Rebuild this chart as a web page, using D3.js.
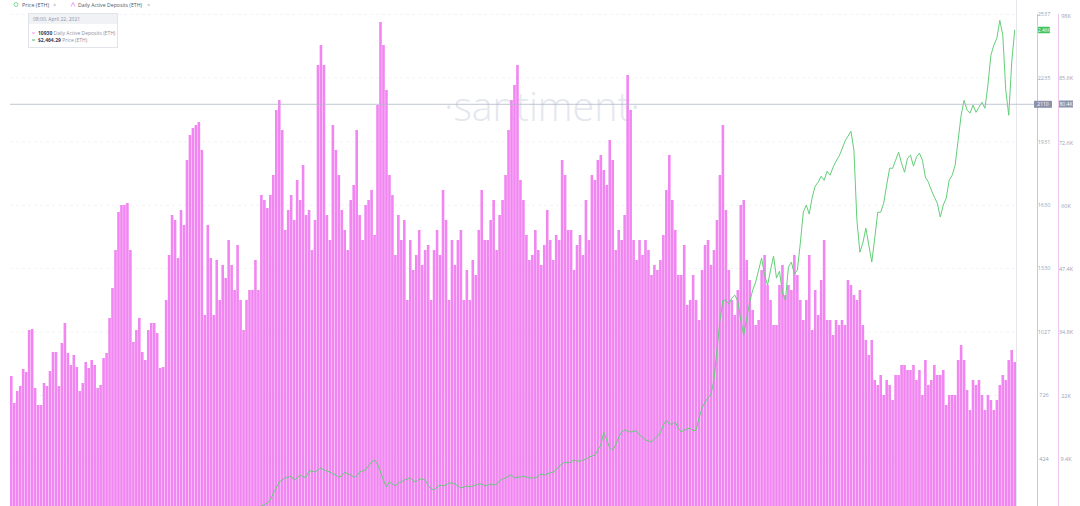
<!DOCTYPE html>
<html><head><meta charset="utf-8">
<script src="https://cdn.jsdelivr.net/npm/d3@7"></script>
<style>body{margin:0;background:#fff;overflow:hidden}svg{display:block;font-family:"Open Sans",Roboto,sans-serif}</style>
</head><body><svg id="c" width="1080" height="506"></svg>
<script>
// Daily Active Deposits (ETH), one value per day
const deposits = [
26000,20600,23000,24000,27400,26800,35200,35400,23600,20200,
20200,24600,24000,27000,30800,30800,24000,32600,36600,30600,
28200,30200,27800,23000,24600,28800,27600,29200,28200,23600,
24200,29600,30600,37600,43600,51200,58800,60200,60200,60600,
51200,32800,35200,37600,30800,29200,35200,36600,36600,34600,
27600,27800,41200,50200,58200,57200,49600,59200,56200,69200,
74200,75600,76200,76800,71200,38200,56200,
49600,38200,49200,41200,48200,45600,53200,48200,43200,52200,
41200,35200,41200,43200,43200,49200,43200,62200,61200,59600,
62200,66200,79200,81200,75200,55200,59200,62200,57200,65200,
61200,68200,58200,59200,51200,57200,88200,92200,88200,58200,
53200,76200,71200,66200,59200,55200,51200,61200,64200,75200,
58200,53200,60200,61200,63200,54200,80200,96800,92200,83200,
66200,62200,50200,58200,53200,57200,41200,53200,47200,50200,
55200,48200,51200,52200,41200,51200,55200,50200,63200,57200,
41200,53200,48200,53200,55200,41200,47200,41200,49200,46200,
55200,63200,53200,53200,57200,61200,51200,58200,61200,66200,
75200,81200,84200,88200,65200,61200,54200,49200,50200,55200,
51200,48200,52200,59200,53200,49200,54200,53200,69200,66200,
55200,55200,47200,52200,54200,50200,61200,53200,66200,65200,
69200,70200,67200,64200,73200,69200,51200,55200,53200,58200,
86200,79200,53200,49200,53200,50200,53200,51200,46200,48200,
47200,49200,54200,63200,70200,61200,55200,46200,46200,52200,
40200,41200,46200,41200,37200,47200,52200,53200,48200,51200,
57200,66200,76200,59200,47200,41200,38200,43200,60200,61200,
49200,45200,39200,36200,37200,47200,50200,44200,41200,36200,
36200,44200,48200,42200,44200,43200,50200,46200,41200,37200,
41200,50200,35200,43200,38200,45200,53200,37200,37200,34200,
37200,36200,37200,36200,45200,44200,42200,41200,43200,36200,
33200,30200,33200,25200,24200,26200,22200,25200,24200,21200,
26200,26200,28200,28200,27200,27200,28200,25200,27200,22200,
29200,24200,25200,28200,26200,26200,27200,20200,22200,22200,
22200,29200,32200,29200,23200,19200,25200,24200,25200,22200,
19200,22200,21200,19200,21200,24200,26200,25200,29200,31200,
28800
];
// Price (ETH) in USD, same days; null = not shown
const price = [
null,null,null,null,null,null,null,null,null,null,
null,null,null,null,null,null,null,null,null,null,
null,null,null,null,null,null,null,null,null,null,
null,null,null,null,null,null,null,null,null,null,
null,null,null,null,null,null,null,null,null,null,
null,null,null,null,null,null,null,null,null,null,
null,null,null,null,null,null,null,null,null,null,
null,null,null,null,null,null,null,null,null,null,
190,192,195,198,200,
206,215,229,262,286,315,324,334,338,343,
324,334,348,338,338,367,367,362,372,381,
372,367,362,353,348,338,343,362,353,348,
338,343,362,367,372,391,410,419,400,362,
324,291,315,305,296,310,315,324,329,334,
320,315,329,329,324,300,282,277,291,300,
296,300,310,310,305,296,286,291,296,291,
296,300,305,305,296,300,305,300,305,320,
329,334,343,348,334,338,338,343,338,334,
334,334,343,353,348,353,358,362,372,391,
400,410,405,410,419,414,414,419,424,434,
438,443,467,491,552,514,476,467,491,529,
552,562,557,552,557,557,538,529,514,510,
505,519,533,548,586,609,590,590,600,571,
552,562,567,571,557,562,619,666,695,714,
733,799,942,1084,1179,1179,1160,1189,1203,1175,
1084,1013,1094,1170,1227,1265,1322,1379,1298,1251,
1322,1388,1284,1317,1213,1179,1336,1360,1303,1322,
1450,1597,1631,1588,1669,1721,1740,1768,1749,1792,
1773,1811,1840,1863,1897,1935,1958,1982,1892,1559,
1407,1450,1521,1441,1360,1474,1597,1597,1640,1726,
1806,1806,1844,1882,1830,1787,1854,1868,1816,1859,
1878,1844,1764,1740,1702,1669,1640,1574,1631,1664,
1749,1773,1821,1939,2058,2129,2082,2068,2106,2072,
2096,2120,2091,2201,2343,2391,2424,2509,2438,2177,
2058,2310,2464
];
const priceTicks = [424, 726, 1027, 1330, 1630, 1931, 2235, 2537];
const depositTicks = [9400, 22000, 34800, 47400, 60000, 72600, 85600, 98000];
const depositTickLabels = ["9.4K","22K","34.8K","47.4K","60K","72.6K","85.6K","98K"];
const crosshairPrice = 2110;
const crosshairDeposits = 80400;
const lastPrice = 2464;
const tooltipDate = "08:00, April 22, 2021";
const tooltipDeposits = "10930";
const tooltipPrice = "$2,464.29";
const legendItems = ["Price (ETH)", "Daily Active Deposits (ETH)"];

const svg = d3.select("#c");
const N = deposits.length;
const L = 10, R = 1016, B = 506;
const x = d3.scaleBand().domain(d3.range(N)).range([L, R]).paddingInner(0.13);
const yDep = d3.scaleLinear().domain([0, 98000]).range([B, 16]);
const yPrice = d3.scaleLinear().domain([424, 2235]).range([459, 78]);

svg.append("defs").append("clipPath").attr("id","clip")
  .append("rect").attr("x",L).attr("y",0).attr("width",R-L).attr("height",B);

// watermark
svg.append("text").attr("x",542).attr("y",121).attr("text-anchor","middle")
  .attr("font-size",40).attr("font-weight",300).attr("fill","#e4e7ee")
  .attr("textLength",196).attr("lengthAdjust","spacingAndGlyphs")
  .text("·santiment·");

// gridlines
svg.append("g").selectAll("line").data(priceTicks).join("line")
  .attr("x1",L).attr("x2",R).attr("y1",d=>yPrice(d)).attr("y2",d=>yPrice(d))
  .attr("stroke","#e9ebf0").attr("stroke-width",0.6).attr("stroke-dasharray","3,3");

// bars
svg.append("g").attr("clip-path","url(#clip)").selectAll("rect").data(deposits).join("rect")
  .attr("x",(d,i)=>x(i)).attr("width",x.bandwidth())
  .attr("y",d=>yDep(d)).attr("height",d=>B - yDep(d))
  .attr("fill","#f185f1");

// price line
svg.append("path").attr("clip-path","url(#clip)")
  .attr("d", d3.line().defined(d=>d[1]!==null).x(d=>x(d[0])+x.bandwidth()/2).y(d=>yPrice(d[1]))(price.map((p,i)=>[i,p])))
  .attr("fill","none").attr("stroke","#62cf78").attr("stroke-width",1);

// axis lines
svg.append("line").attr("x1",R+0.5).attr("x2",R+0.5).attr("y1",0).attr("y2",B).attr("stroke","#e6e8ee");
svg.append("line").attr("x1",1037.5).attr("x2",1037.5).attr("y1",14).attr("y2",B).attr("stroke","#a6e3b0");
svg.append("line").attr("x1",1058.5).attr("x2",1058.5).attr("y1",14).attr("y2",B).attr("stroke","#efc6ef");

// axis labels
svg.append("g").selectAll("text").data(priceTicks).join("text")
  .attr("x",1044).attr("y",d=>yPrice(d)+2).attr("text-anchor","middle")
  .attr("font-size",5.5).attr("fill","#9aa2b4").text(d=>d);
svg.append("g").selectAll("text").data(depositTicks).join("text")
  .attr("x",1066).attr("y",d=>yDep(d)+2).attr("text-anchor","middle")
  .attr("font-size",5.5).attr("fill","#9aa2b4").text((d,i)=>depositTickLabels[i]);

// crosshair
const cy = yPrice(crosshairPrice);
svg.append("line").attr("x1",L).attr("x2",1035).attr("y1",cy).attr("y2",cy).attr("stroke","#b3b9c6").attr("stroke-width",0.8);
svg.append("rect").attr("x",1034).attr("y",cy-3.5).attr("width",18).attr("height",7).attr("fill","#8a93ab");
svg.append("text").attr("x",1043).attr("y",cy+1.8).attr("text-anchor","middle").attr("font-size",5).attr("fill","#fff").text(crosshairPrice);
svg.append("rect").attr("x",1059).attr("y",yDep(crosshairDeposits)-3.5).attr("width",14).attr("height",7).attr("fill","#8a93ab");
svg.append("text").attr("x",1066).attr("y",yDep(crosshairDeposits)+1.8).attr("text-anchor","middle").attr("font-size",5).attr("fill","#fff").text((crosshairDeposits/1000).toFixed(1)+"K");

// last price badge
const ly = yPrice(lastPrice);
svg.append("rect").attr("x",1038).attr("y",ly-3).attr("width",12).attr("height",6.5).attr("rx",1).attr("fill","#3fc25f");
svg.append("text").attr("x",1044).attr("y",ly+1.8).attr("text-anchor","middle").attr("font-size",4.6).attr("fill","#fff").text((lastPrice/1000).toFixed(2)+"K");

// legend
const lg = svg.append("g").attr("font-size",5.6).attr("fill","#505866");
lg.append("circle").attr("cx",16).attr("cy",4.5).attr("r",2).attr("fill","none").attr("stroke","#62cf78").attr("stroke-width",0.8);
lg.append("text").attr("x",22).attr("y",6.6).attr("textLength",27).attr("lengthAdjust","spacingAndGlyphs").text(legendItems[0]);
lg.append("text").attr("x",53).attr("y",6.6).attr("fill","#9aa2b4").text("×");
lg.append("path").attr("d","M71,6.5 L73,2.5 L75,6.5").attr("fill","none").attr("stroke","#f185f1").attr("stroke-width",0.8);
lg.append("text").attr("x",78).attr("y",6.6).attr("textLength",64).attr("lengthAdjust","spacingAndGlyphs").text(legendItems[1]);
lg.append("text").attr("x",147).attr("y",6.6).attr("fill","#9aa2b4").text("×");

// tooltip
const tt = svg.append("g");
tt.append("rect").attr("x",28.5).attr("y",13.5).attr("width",89).attr("height",34).attr("fill","#fff").attr("stroke","#e1e4ea");
tt.append("rect").attr("x",29).attr("y",14).attr("width",88).attr("height",10).attr("fill","#f1f2f6");
tt.append("text").attr("x",33).attr("y",21).attr("font-size",5).attr("fill","#8a93a6").text(tooltipDate);
tt.append("line").attr("x1",32).attr("x2",35).attr("y1",33).attr("y2",33).attr("stroke","#f185f1").attr("stroke-width",0.9);
const t1 = tt.append("text").attr("x",38).attr("y",35).attr("font-size",5);
t1.append("tspan").attr("font-weight","bold").attr("fill","#3a4050").text(tooltipDeposits);
t1.append("tspan").attr("fill","#8a93a6").text(" "+legendItems[1]);
tt.append("line").attr("x1",32).attr("x2",35).attr("y1",40).attr("y2",40).attr("stroke","#3fa95a").attr("stroke-width",0.9);
const t2 = tt.append("text").attr("x",38).attr("y",42).attr("font-size",5);
t2.append("tspan").attr("font-weight","bold").attr("fill","#3a4050").text(tooltipPrice);
t2.append("tspan").attr("fill","#8a93a6").text(" "+legendItems[0]);
</script></body></html>
